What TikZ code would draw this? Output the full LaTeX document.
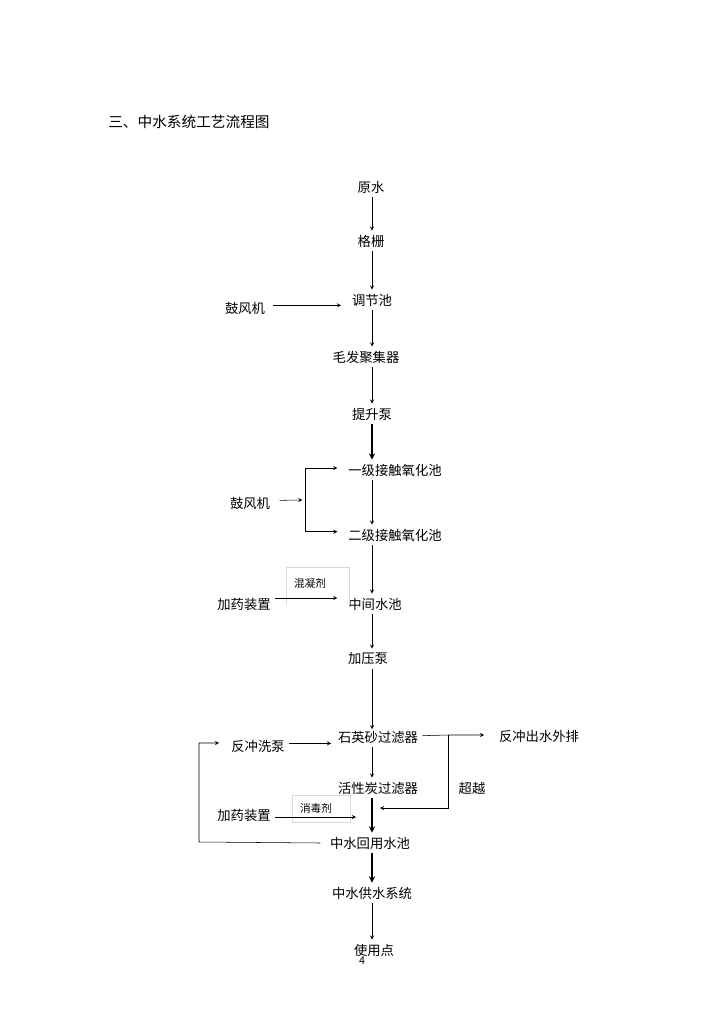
\documentclass[tikz,border=0pt]{standalone}
\usepackage{fontspec}
\setmainfont{Noto Sans CJK SC}
\begin{document}
\begin{tikzpicture}[x=0.75pt,y=-0.75pt,
    liucheng/.style={inner sep=3pt,font=\fontsize{10}{12}\selectfont},
    xiaozi/.style={inner sep=1pt,font=\fontsize{8}{10}\selectfont},
    cu/.style={line width=1.1pt},
    kuang/.style={draw=gray!30,line width=0.5pt}]
    \useasboundingbox (0,0) rectangle (724,1024);
    % 标题
    \node[liucheng,anchor=west,font=\fontsize{11}{13}\selectfont] (biaoti) at (104,122) {三、中水系统工艺流程图};
    % 主流程节点
    \coordinate (zhou) at (372,0);
    \node[liucheng] (yuanshui) at (371,187) {原水};
    \node[liucheng] (geshan) at (371,241) {格栅};
    \node[liucheng] (tiaojie) at (372,300) {调节池};
    \node[liucheng] (maofa) at (366,357) {毛发聚集器};
    \node[liucheng] (tisheng) at (372,414) {提升泵};
    \node[liucheng] (yiji) at (395,470) {一级接触氧化池};
    \node[liucheng] (erji) at (395,535) {二级接触氧化池};
    \node[liucheng] (zhongjian) at (375,604) {中间水池};
    \node[liucheng] (jiaya) at (368,659) {加压泵};
    \node[liucheng] (shiying) at (378,737) {石英砂过滤器};
    \node[liucheng] (huoxing) at (378,788) {活性炭过滤器};
    \node[liucheng] (zhongshui) at (370,843) {中水回用水池};
    \node[liucheng] (gongshui) at (372,893) {中水供水系统};
    \node[liucheng] (shiyong) at (374,950) {使用点};
    \node[xiaozi] (yema) at (362,961) {4};
    % 旁路节点
    \node[liucheng] (gufeng1) at (245,308) {鼓风机};
    \node[liucheng] (gufeng2) at (250,503) {鼓风机};
    \node[liucheng] (jiayao1) at (244,604) {加药装置};
    \node[liucheng] (fanxibeng) at (258,746) {反冲洗泵};
    \node[liucheng] (paichu) at (539,736) {反冲出水外排};
    \node[liucheng] (jiayao2) at (244,815) {加药装置};
    \node[liucheng] (chaoyue) at (472,788) {超越};
    % 药剂框
    \draw[kuang] (286,605) -- (286,567) -- (349,567) -- (349,605);
    \draw[kuang] (292,795) rectangle (350,822);
    \node[xiaozi] (hunning) at (310,583) {混凝剂};
    \node[xiaozi] (xiaodu) at (316,808) {消毒剂};
    % 主流程箭头
    \draw[-stealth] (yuanshui.south -| zhou) -- (geshan.north -| zhou);
    \draw[-stealth] (geshan.south -| zhou) -- (tiaojie.north -| zhou);
    \draw[-stealth] (tiaojie.south -| zhou) -- (maofa.north -| zhou);
    \draw[-stealth] (maofa.south -| zhou) -- (tisheng.north -| zhou);
    \draw[-stealth,cu] (tisheng.south -| zhou) -- (yiji.north -| zhou);
    \draw[-stealth] (yiji.south -| zhou) -- (erji.north -| zhou);
    \draw[-stealth] (erji.south -| zhou) -- (zhongjian.north -| zhou);
    \draw[-stealth] (zhongjian.south -| zhou) -- (jiaya.north -| zhou);
    \draw[-stealth] (jiaya.south -| zhou) -- ([yshift=-2pt]shiying.north -| zhou);
    \draw[-stealth] (shiying.south -| zhou) -- (huoxing.north -| zhou);
    \draw[-stealth,cu] (huoxing.south -| zhou) -- (zhongshui.north -| zhou);
    \draw[-stealth,cu] (zhongshui.south -| zhou) -- (gongshui.north -| zhou);
    \draw[-stealth] (gongshui.south -| zhou) -- (shiyong.north -| zhou);
    % 鼓风机
    \draw[-stealth] ([xshift=3pt,yshift=2pt]gufeng1.east) -- ([xshift=-5pt,yshift=2pt]gufeng1.east -| tiaojie.west);
    \coordinate (fencha) at (305,500);
    \draw[-stealth] ([xshift=4pt,yshift=2pt]gufeng2.east) -- ([xshift=-2pt]fencha);
    \draw[stealth-stealth] ([xshift=-5pt,yshift=1.5pt]yiji.west) -- ([yshift=1.5pt]yiji.west -| fencha)
        -- ([yshift=2.5pt]erji.west -| fencha) -- ([xshift=-5pt,yshift=2.5pt]erji.west);
    % 加药
    \draw[-stealth] ([yshift=4.5pt]jiayao1.east) -- ([xshift=-5pt,yshift=4.5pt]jiayao1.east -| zhongjian.west);
    \coordinate (touyao) at (356,817);
    \draw[-stealth] ([yshift=-1.5pt]jiayao2.east) -- (touyao);
    % 反冲洗与超越
    \draw[-stealth] ([yshift=2pt]fanxibeng.east) -- ([xshift=-2pt,yshift=2pt]fanxibeng.east -| shiying.west);
    \coordinate (chaoyue1) at (448,735);
    \coordinate (huiru) at (380,808);
    \draw[-stealth] ([yshift=1pt]shiying.east) -- (chaoyue1) -- ([xshift=-8pt]paichu.west |- chaoyue1);
    \draw[-stealth] (chaoyue1) |- (huiru);
    \coordinate (huiliu) at (199,842);
    \draw[-stealth] ([xshift=-4pt]zhongshui.west) -- (huiliu) |- ([xshift=-6pt]fanxibeng.west |- 0,743);
\end{tikzpicture}
\end{document}
